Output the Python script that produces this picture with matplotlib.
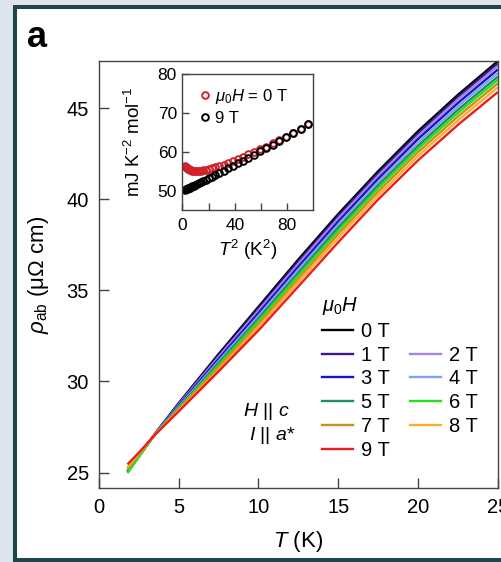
import matplotlib
matplotlib.use("Agg")
import matplotlib.pyplot as plt
from matplotlib.patches import Rectangle
from matplotlib.lines import Line2D

plt.rcParams['font.family'] = ['Liberation Sans', 'DejaVu Sans']
plt.rcParams['mathtext.fontset'] = 'custom'
plt.rcParams['mathtext.rm'] = 'Liberation Sans'
plt.rcParams['mathtext.it'] = 'Liberation Sans:italic'
plt.rcParams['mathtext.bf'] = 'Liberation Sans:bold'

# ---------------- main panel data: rho_ab(T) for each field ----------------
T = [1.8, 2.5, 3.5, 5, 7.5, 10, 12.5, 15, 17.5, 20, 22.5, 25]
rho_0T = [25.05, 25.90, 27.10, 28.80, 31.50, 34.10, 36.70, 39.20, 41.55, 43.75, 45.75, 47.60]
rho_1T = [25.05, 25.90, 27.09, 28.76, 31.42, 34.00, 36.58, 39.08, 41.43, 43.62, 45.62, 47.46]
rho_2T = [25.05, 25.88, 27.08, 28.72, 31.34, 33.89, 36.46, 38.96, 41.30, 43.49, 45.49, 47.33]
rho_3T = [25.07, 25.90, 27.08, 28.67, 31.23, 33.75, 36.30, 38.79, 41.13, 43.32, 45.30, 47.14]
rho_4T = [25.08, 25.90, 27.07, 28.61, 31.11, 33.60, 36.14, 38.62, 40.96, 43.14, 45.12, 46.95]
rho_5T = [25.02, 25.87, 27.07, 28.55, 31.00, 33.45, 35.97, 38.45, 40.78, 42.95, 44.93, 46.75]
rho_6T = [24.97, 25.84, 27.07, 28.51, 30.89, 33.32, 35.82, 38.29, 40.62, 42.79, 44.76, 46.58]
rho_7T = [25.20, 25.97, 27.06, 28.46, 30.77, 33.16, 35.64, 38.10, 40.43, 42.60, 44.56, 46.38]
rho_8T = [25.30, 26.02, 27.06, 28.40, 30.63, 32.99, 35.45, 37.90, 40.23, 42.39, 44.35, 46.16]
rho_9T = [25.45, 26.08, 27.05, 28.35, 30.55, 32.80, 35.22, 37.65, 40.00, 42.15, 44.10, 45.90]

field_labels = ['0 T', '1 T', '2 T', '3 T', '4 T', '5 T', '6 T', '7 T', '8 T', '9 T']
field_colors = ['#000000', '#3a1a8c', '#a884e6', '#1414c8', '#84a0f0',
                '#1f8f5f', '#22e022', '#c8901e', '#ffad2a', '#ee1c1c']
rho_all = [rho_0T, rho_1T, rho_2T, rho_3T, rho_4T, rho_5T, rho_6T, rho_7T, rho_8T, rho_9T]

# ---------------- inset data: C/T vs T^2 ----------------
T2 = [2.10, 2.56, 3.06, 3.61, 4.20, 4.84, 5.52, 6.25, 7.29, 8.41, 9.61, 10.89,
      12.25, 14.06, 16.00, 18.06, 20.25, 22.56, 25.00, 28.09, 31.36, 34.81,
      38.44, 42.25, 46.24, 50.41, 54.76, 59.29, 64.00, 68.89, 73.96, 79.21,
      84.64, 90.25, 96.04]
CT_0T = [56.24, 56.11, 55.94, 55.78, 55.63, 55.48, 55.34, 55.21, 55.08, 55.01,
         54.96, 54.97, 54.99, 55.09, 55.21, 55.36, 55.57, 55.81, 56.03, 56.35,
         56.71, 57.16, 57.65, 58.17, 58.73, 59.32, 59.96, 60.64, 61.36, 62.17,
         63.03, 63.93, 64.92, 65.97, 67.11]
CT_9T = [50.24, 50.31, 50.39, 50.48, 50.58, 50.68, 50.79, 50.91, 51.08, 51.26,
         51.46, 51.67, 51.89, 52.19, 52.51, 52.86, 53.22, 53.61, 54.03, 54.55,
         55.11, 55.71, 56.35, 57.02, 57.73, 58.47, 59.26, 60.09, 60.96, 61.87,
         62.83, 63.83, 64.87, 65.97, 67.11]

W, H = 502, 562
fig = plt.figure(figsize=(W / 100, H / 100), dpi=100)
fig.patch.set_facecolor('#dde4ec')
fig.add_artist(Rectangle((15.3 / W, 1 - 560 / H), (520 - 15.3) / W, (560 - 7) / H,
                         transform=fig.transFigure, facecolor='white',
                         edgecolor='#1d454a', lw=2.9, zorder=-5))

spine_c = '#444444'
ax = fig.add_axes([98.7 / W, 1 - 488 / H, (498 - 98.7) / W, (488 - 61) / H])
for rho, c in zip(rho_all, field_colors):
    ax.plot(T, rho, color=c, lw=1.7, solid_capstyle='butt')
ax.set_xlim(0, 25)
ax.set_ylim(24.15, 47.6)
ax.set_xticks([0, 5, 10, 15, 20, 25])
ax.set_yticks([25, 30, 35, 40, 45])
ax.tick_params(direction='in', length=7, width=1, color=spine_c, labelsize=14.5, pad=7)
for s in ax.spines.values():
    s.set_color(spine_c)
    s.set_linewidth(1)
ax.set_xlabel('$T$ (K)', fontsize=16, labelpad=9)
ax.set_ylabel(r'$\rho_{\mathrm{ab}}$ (μΩ cm)', fontsize=16, labelpad=11)

# legend (two columns, column-major fill)
handles = {lab: Line2D([], [], color=c, lw=1.7) for lab, c in zip(field_labels, field_colors)}
blank = Line2D([], [], color='none')
order1 = ['0 T', '1 T', '3 T', '5 T', '7 T', '9 T']
order2 = ['2 T', '4 T', '6 T', '8 T']
hs = [handles[k] for k in order1] + [blank] + [handles[k] for k in order2]
ls = order1 + [' '] + order2
leg = ax.legend(hs, ls, ncol=2, loc='upper left', bbox_to_anchor=(0.558, 0.452),
                frameon=False, fontsize=14.5, title=r'$\mu_0H$', title_fontsize=14.5,
                alignment='left', handlelength=1.55, handletextpad=0.4,
                labelspacing=0.24, columnspacing=1.0, borderpad=0, borderaxespad=0)

ax.text(0.479, 0.178, '$H$ || $c$', transform=ax.transAxes, ha='right', va='center', fontsize=14)
ax.text(0.492, 0.122, '$I$ || $a$*', transform=ax.transAxes, ha='right', va='center', fontsize=14)

# inset
ax2 = fig.add_axes([182.5 / W, 1 - 210 / H, (313.3 - 182.5) / W, (210 - 74.3) / H])
ax2.plot(T2, CT_0T, 'o', mfc='none', mec='#d0202a', ms=4.8, mew=1.4, label=r'$\mu_0H$ = 0 T')
ax2.plot(T2, CT_9T, 'o', mfc='none', mec='black', ms=4.8, mew=1.4, label='9 T')
ax2.set_xlim(0, 100)
ax2.set_ylim(45, 80)
ax2.set_xticks([0, 40, 80])
ax2.set_xticks([20, 60], minor=True)
ax2.set_yticks([50, 60, 70, 80])
ax2.tick_params(which='both', direction='in', length=5, width=1, color=spine_c, labelsize=12.5)
ax2.tick_params(axis='x', pad=6)
ax2.tick_params(axis='y', pad=4)
for s in ax2.spines.values():
    s.set_color(spine_c)
    s.set_linewidth(1)
ax2.set_xlabel('$T^2$ (K$^2$)', fontsize=13.5, labelpad=3)
ax2.set_ylabel('mJ K$^{-2}$ mol$^{-1}$', fontsize=13.5, labelpad=10)
ax2.legend(loc='upper left', bbox_to_anchor=(0.13, 0.91), frameon=False, fontsize=12,
           handlelength=0.6, handletextpad=0.3, labelspacing=0.3, borderpad=0,
           borderaxespad=0, numpoints=1)

fig.text(27 / W, 1 - 47 / H, 'a', fontsize=26, fontweight='bold', va='baseline', ha='left')

fig.savefig('out.png', dpi=100, facecolor=fig.get_facecolor())
